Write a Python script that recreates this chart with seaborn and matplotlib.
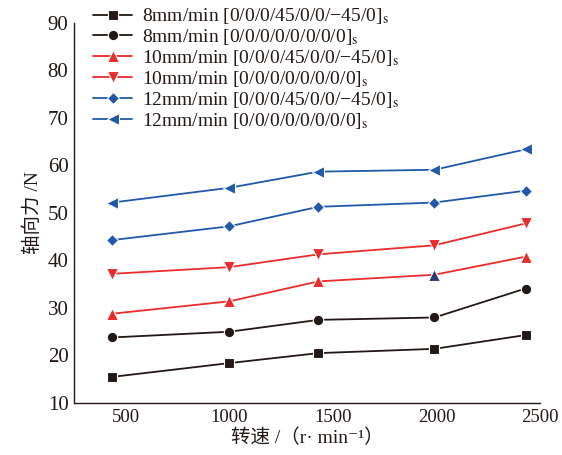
import matplotlib
matplotlib.use("Agg")
import matplotlib.pyplot as plt
import seaborn as sns

# spindle speed (r/min)
speed = [435, 1000, 1430, 1990, 2430]

# axial force (N)
f8_45 = [15.5, 18.4, 20.5, 21.4, 24.3]
f8_0 = [23.8, 25.0, 27.5, 28.0, 34.1]
f10_45 = [28.8, 31.4, 35.6, 37.0, 40.8]
f10_0 = [37.2, 38.6, 41.3, 43.2, 47.8]
f12_45 = [44.3, 47.2, 51.3, 52.2, 54.7]
f12_0 = [52.2, 55.3, 58.7, 59.1, 63.4]

labels = [
    "8mm/min [0/0/0/45/0/0/\u221245/0]$_\\mathrm{s}$",
    "8mm/min [0/0/0/0/0/0/0/0]$_\\mathrm{s}$",
    "10mm/min [0/0/0/45/0/0/\u221245/0]$_\\mathrm{s}$",
    "10mm/min [0/0/0/0/0/0/0/0]$_\\mathrm{s}$",
    "12mm/min [0/0/0/45/0/0/\u221245/0]$_\\mathrm{s}$",
    "12mm/min [0/0/0/0/0/0/0/0]$_\\mathrm{s}$",
]

BLACK = "#231815"
RED = "#ec2b2b"
BLUE = "#2059aa"
NAVY = "#2e3770"

sns.set_style("white")
plt.rcParams["font.family"] = ["Liberation Serif", "Noto Sans CJK SC", "DejaVu Sans"]
plt.rcParams["mathtext.fontset"] = "stix"

fig = plt.figure(figsize=(5.62, 4.55), dpi=100)
ax = fig.add_axes([0.1317, 0.1143, 0.8293, 0.8352])

series = [
    (f8_45, "s", BLACK, 6.5),
    (f8_0, "o", BLACK, 7.5),
    (f10_45, "^", RED, 8),
    (f10_0, "v", RED, 8),
    (f12_45, "D", BLUE, 6.5),
    (f12_0, "<", BLUE, 8),
]

for (vals, mk, col, ms), lab in zip(series, labels):
    sns.lineplot(x=speed, y=vals, marker=mk, color=col, markersize=ms,
                 markeredgecolor="white", markeredgewidth=0.8,
                 linewidth=1.3, label=lab, ax=ax, legend=False)

# one marker printed in a darker tone in the source figure
ax.plot(speed[3], f10_45[3], marker="^", color=NAVY, markersize=8,
        markeredgecolor="white", markeredgewidth=0.8, linestyle="none")

ax.set_xlim(250, 2500)
ax.set_ylim(10, 90)
ax.set_xticks([500, 1000, 1500, 2000, 2500])
ax.set_yticks(range(10, 91, 10))
ax.tick_params(axis="both", direction="in", length=6, width=1, color=BLACK,
               labelcolor=BLACK)
ax.tick_params(axis="x", labelsize=13.5, pad=4)
ax.tick_params(axis="y", labelsize=15, pad=4)
for side in ["top", "right"]:
    ax.spines[side].set_visible(False)
for side in ["left", "bottom"]:
    ax.spines[side].set_color(BLACK)
    ax.spines[side].set_linewidth(1)

ax.set_xlabel("转速 /（r· min\u207b\u00b9）", fontsize=14, color=BLACK, labelpad=2)
ax.set_ylabel("轴向力 /N", fontsize=14, color=BLACK, labelpad=4)

handles, labs = ax.get_legend_handles_labels()
fig.legend(handles[:6], labs[:6], loc="upper left",
           bbox_to_anchor=(0.142, 1.016), frameon=False, fontsize=14,
           handlelength=2.0, handletextpad=0.5, labelspacing=0.05,
           borderpad=0.2, labelcolor=BLACK)

fig.savefig("out.png", dpi=100)
